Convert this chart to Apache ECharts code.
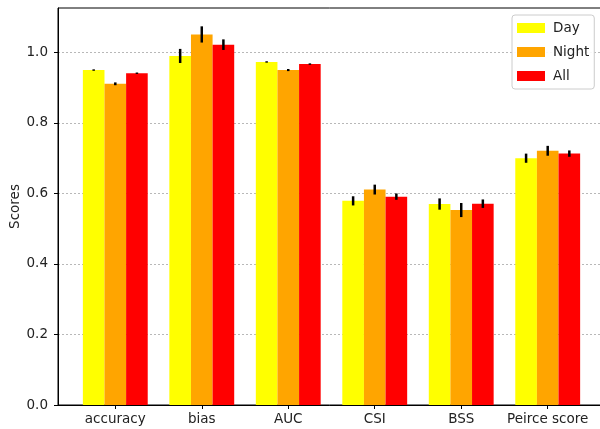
<!DOCTYPE html>
<html>
<head>
<meta charset="utf-8">
<script src="https://cdn.jsdelivr.net/npm/echarts@6/dist/echarts.min.js"></script>
<style>
  html, body { margin: 0; padding: 0; background: #fff; }
  #chart { width: 600px; height: 429px; }
</style>
</head>
<body>
<div id="chart"></div>
<script>
// Verification scores per metric, split by time of day
const categories = ['accuracy', 'bias', 'AUC', 'CSI', 'BSS', 'Peirce score'];
const seriesNames = ['Day', 'Night', 'All'];

const dayScores   = [0.950, 0.990, 0.973, 0.579, 0.570, 0.700];
const dayErr      = [0.002, 0.020, 0.002, 0.013, 0.016, 0.013];
const nightScores = [0.911, 1.051, 0.950, 0.611, 0.553, 0.721];
const nightErr    = [0.004, 0.023, 0.003, 0.014, 0.020, 0.014];
const allScores   = [0.941, 1.022, 0.967, 0.591, 0.571, 0.713];
const allErr      = [0.002, 0.015, 0.002, 0.009, 0.012, 0.009];

const yTicks = [0, 0.2, 0.4, 0.6, 0.8, 1.0];

const colors = ['#ffff00', '#ffa500', '#ff0000'];
const barWidth = 0.25;           // in category units
const xMin = -0.6625, xMax = categories.length - 1 + 0.6625;
const yMax = 1.126;

const scoreSets = [dayScores, nightScores, allScores];
const errSets = [dayErr, nightErr, allErr];

function makeSeries(k) {
  const offset = (k - 1) * barWidth;
  const data = scoreSets[k].map((v, i) => [i, v, errSets[k][i]]);
  return {
    type: 'custom',
    name: seriesNames[k],
    itemStyle: { color: colors[k] },
    data: data,
    encode: { x: 0, y: 1 },
    renderItem: function (params, api) {
      const cx = api.value(0) + offset;
      const v = api.value(1);
      const e = api.value(2);
      const p0 = api.coord([cx - barWidth / 2, v]);
      const p1 = api.coord([cx + barWidth / 2, 0]);
      const eLo = api.coord([cx, v - e]);
      const eHi = api.coord([cx, v + e]);
      return {
        type: 'group',
        children: [
          {
            type: 'rect',
            shape: { x: p0[0], y: p0[1], width: p1[0] - p0[0], height: p1[1] - p0[1] },
            style: { fill: colors[k] }
          },
          {
            type: 'line',
            shape: { x1: eLo[0], y1: eLo[1], x2: eHi[0], y2: eHi[1] },
            style: { stroke: '#000', lineWidth: 2.5 }
          }
        ]
      };
    }
  };
}

const chart = echarts.init(document.getElementById('chart'), null, { renderer: 'canvas' });

chart.setOption({
  animation: false,
  backgroundColor: '#fff',
  textStyle: { fontFamily: 'DejaVu Sans' },
  grid: {
    left: 58, top: 8, width: 547, height: 397,
    outerBoundsMode: 'none', containLabel: false,
    show: true, borderColor: '#000', borderWidth: 1, backgroundColor: 'transparent'
  },
  legend: {
    orient: 'vertical',
    left: 512, top: 15,
    data: seriesNames.map((n, k) => ({ name: n, icon: 'rect', itemStyle: { color: colors[k] } })),
    itemWidth: 28, itemHeight: 10, itemGap: 10,
    padding: [6, 5, 6, 5],
    borderColor: '#cccccc', borderWidth: 1, borderRadius: 3,
    backgroundColor: 'rgba(255,255,255,0.9)',
    textStyle: { fontFamily: 'DejaVu Sans', fontSize: 13.5, color: '#222', padding: [0, 0, 0, 3] }
  },
  xAxis: {
    type: 'value',
    min: xMin, max: xMax,
    axisLine: { show: true, onZero: false, lineStyle: { color: '#000', width: 1 } },
    axisTick: { show: true, length: 4, customValues: categories.map((c, i) => i), lineStyle: { color: '#000' } },
    axisLabel: {
      customValues: categories.map((c, i) => i),
      formatter: v => categories[Math.round(v)],
      fontFamily: 'DejaVu Sans', fontSize: 13.5, color: '#222', margin: 7
    },
    splitLine: { show: false }
  },
  yAxis: {
    type: 'value',
    min: 0, max: yMax, interval: 0.2,
    name: 'Scores', nameLocation: 'middle', nameGap: 36, nameMoveOverlap: false,
    nameTextStyle: { fontFamily: 'DejaVu Sans', fontSize: 13.5, color: '#222' },
    axisLine: { show: true, onZero: false, lineStyle: { color: '#000', width: 1 } },
    axisTick: { show: true, length: 4, customValues: yTicks, lineStyle: { color: '#000' } },
    axisLabel: {
      customValues: yTicks,
      formatter: v => v.toFixed(1),
      fontFamily: 'DejaVu Sans', fontSize: 13.5, color: '#222', margin: 10
    },
    splitLine: { show: true, lineStyle: { color: '#b8b8b8', type: [2, 2], width: 1 } }
  },
  series: [makeSeries(0), makeSeries(1), makeSeries(2)]
});
</script>
</body>
</html>
